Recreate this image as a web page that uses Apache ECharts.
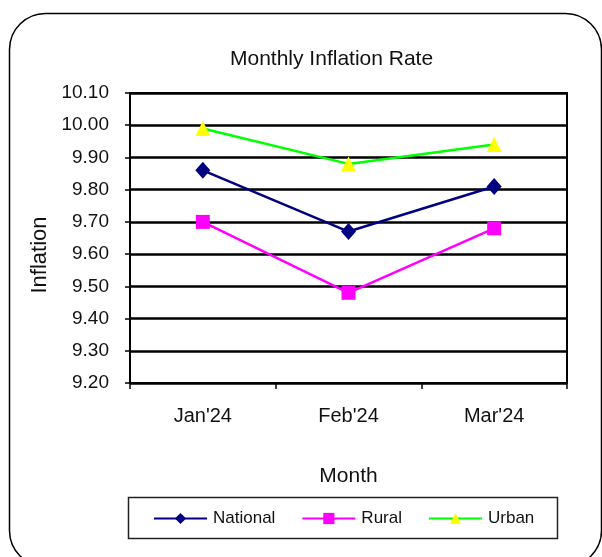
<!DOCTYPE html>
<html><head><meta charset="utf-8">
<script src="https://cdn.jsdelivr.net/npm/echarts@6/dist/echarts.min.js"></script>
<style>html,body{margin:0;padding:0;background:#fff;}#c{width:602px;height:557px;}</style>
</head><body><div id="c"></div>
<script>
const categories = ["Jan'24", "Feb'24", "Mar'24"];
const national = [9.86, 9.67, 9.81];
const rural = [9.70, 9.48, 9.68];
const urban = [9.99, 9.88, 9.94];
const yTicks = [9.20, 9.30, 9.40, 9.50, 9.60, 9.70, 9.80, 9.90, 10.00, 10.10];

const chart = echarts.init(document.getElementById('c'));
const font = 'Liberation Sans, Arial, sans-serif';
const txt = '#111';
chart.setOption({
  animation: false,
  backgroundColor: '#fff',
  textStyle: {fontFamily: font},
  graphic: [{
    type: 'rect', shape: {x: 9.5, y: 13.5, width: 592, height: 553, r: 36},
    style: {fill: 'none', stroke: '#000', lineWidth: 1.5}, z: 0
  }, {
    type: 'rect', shape: {x: 130, y: 93, width: 437, height: 290},
    style: {fill: 'none', stroke: '#000', lineWidth: 2}, z: 10
  }, {
    type: 'rect', shape: {x: 128.5, y: 497.5, width: 429, height: 41},
    style: {fill: 'none', stroke: '#222', lineWidth: 1.5}, z: 10
  }],
  title: {
    text: 'Monthly Inflation Rate', left: 225, top: 44,
    textStyle: {fontFamily: font, fontSize: 21, fontWeight: 'normal', color: txt}
  },
  legend: {
    data: [{name: 'National'}, {name: 'Rural'}, {name: 'Urban'}],
    left: 153, top: 510, padding: 0,
    itemWidth: 53, itemHeight: 14, itemGap: 26,
    textStyle: {fontFamily: font, fontSize: 17, color: txt, padding: [0, 0, 0, 1]}
  },
  grid: {left: 130, right: 35, top: 93, bottom: 174},
  xAxis: {
    type: 'category', data: categories, boundaryGap: true,
    name: 'Month', nameLocation: 'middle', nameGap: 83,
    nameTextStyle: {fontFamily: font, fontSize: 21, color: txt},
    axisLine: {lineStyle: {color: '#000', width: 2}},
    axisTick: {show: true, length: 6, lineStyle: {color: '#000', width: 1.5}},
    axisLabel: {fontFamily: font, fontSize: 20, color: txt, margin: 23}
  },
  yAxis: {
    type: 'value', min: 9.2, max: 10.1, interval: 0.1,
    name: 'Inflation', nameLocation: 'middle', nameGap: 69, nameRotate: 90,
    nameTextStyle: {fontFamily: font, fontSize: 22, color: txt, padding: [0, 34, 0, 0]},
    axisLine: {show: true, lineStyle: {color: '#000', width: 2}},
    axisTick: {show: true, length: 5, lineStyle: {color: '#000', width: 1.5}},
    axisLabel: {fontFamily: font, fontSize: 19, color: txt, margin: 21,
      formatter: v => { const t = yTicks.find(x => Math.abs(x - v) < 1e-6); return (t !== undefined ? t : v).toFixed(2); }},
    splitLine: {lineStyle: {color: '#000', width: 2.5}}
  },
  series: [
    {name: 'National', type: 'line', data: national, symbol: 'diamond', symbolSize: [15, 17],
     itemStyle: {color: '#000080'}, lineStyle: {color: '#000080', width: 2.5}},
    {name: 'Rural', type: 'line', data: rural, symbol: 'rect', symbolSize: 14,
     itemStyle: {color: '#ff00ff'}, lineStyle: {color: '#ff00ff', width: 2.5}},
    {name: 'Urban', type: 'line', data: urban, symbol: 'triangle', symbolSize: 15,
     itemStyle: {color: '#ffff00'}, lineStyle: {color: '#00ff00', width: 2.5}}
  ]
});
</script></body></html>
